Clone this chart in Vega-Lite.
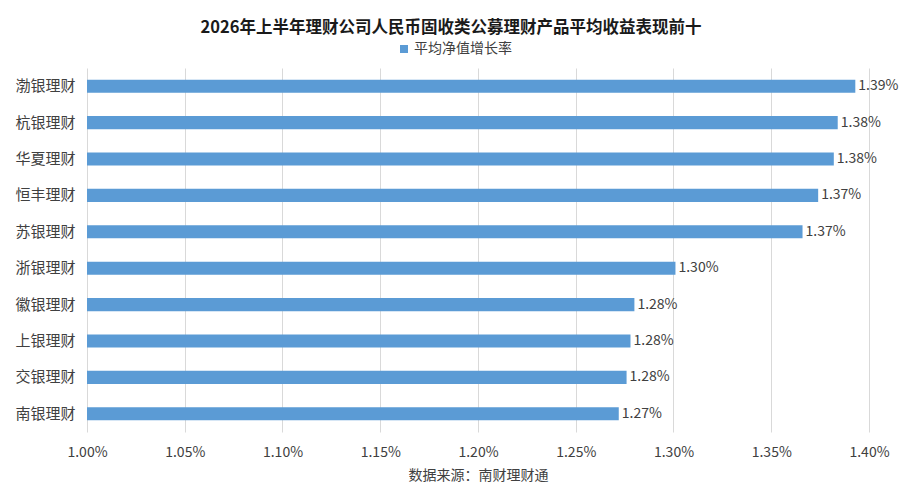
{
  "$schema": "https://vega.github.io/schema/vega-lite/v6.json",
  "width": 782,
  "height": 364,
  "autosize": "none",
  "padding": {"left": 87, "top": 68, "right": 31, "bottom": 64},
  "background": "white",
  "title": {
    "text": "2026年上半年理财公司人民币固收类公募理财产品平均收益表现前十",
    "font": "Noto Sans CJK SC",
    "fontSize": 16.5,
    "fontWeight": "bold",
    "color": "#1a1a1a",
    "anchor": "middle",
    "dx": -27,
    "offset": 6
  },
  "data": {
    "values": [
      {"company": "渤银理财", "rate": 0.01393, "series": "平均净值增长率"},
      {"company": "杭银理财", "rate": 0.01384, "series": "平均净值增长率"},
      {"company": "华夏理财", "rate": 0.01382, "series": "平均净值增长率"},
      {"company": "恒丰理财", "rate": 0.01374, "series": "平均净值增长率"},
      {"company": "苏银理财", "rate": 0.01366, "series": "平均净值增长率"},
      {"company": "浙银理财", "rate": 0.01301, "series": "平均净值增长率"},
      {"company": "徽银理财", "rate": 0.01280, "series": "平均净值增长率"},
      {"company": "上银理财", "rate": 0.01278, "series": "平均净值增长率"},
      {"company": "交银理财", "rate": 0.01276, "series": "平均净值增长率"},
      {"company": "南银理财", "rate": 0.01272, "series": "平均净值增长率"}
    ]
  },
  "encoding": {
    "y": {
      "field": "company",
      "type": "nominal",
      "sort": "-x",
      "title": null,
      "scale": {"paddingInner": 0.64, "paddingOuter": 0.32},
      "axis": {
        "domain": false,
        "ticks": false,
        "labelPadding": 12,
        "labelFont": "Noto Sans CJK SC",
        "labelFontSize": 15,
        "labelColor": "#404040"
      }
    },
    "x": {
      "field": "rate",
      "type": "quantitative",
      "title": "数据来源：南财理财通",
      "scale": {"domain": [0.01, 0.014], "zero": false, "nice": false},
      "axis": {
        "values": [0.01, 0.0105, 0.011, 0.0115, 0.012, 0.0125, 0.013, 0.0135, 0.014],
        "format": ".2%",
        "domain": false,
        "ticks": false,
        "grid": true,
        "gridColor": "#d9d9d9",
        "labelFlush": false,
        "labelPadding": 13,
        "labelFont": "Noto Sans CJK SC",
        "labelFontSize": 14,
        "labelColor": "#404040",
        "titleFont": "Noto Sans CJK SC",
        "titleFontSize": 14,
        "titleFontWeight": "normal",
        "titleColor": "#404040",
        "titlePadding": 9
      }
    }
  },
  "layer": [
    {
      "mark": {"type": "bar", "color": "#5b9bd5"},
      "encoding": {
        "x2": {"datum": 0.01},
        "color": {
          "field": "series",
          "type": "nominal",
          "scale": {"range": ["#5b9bd5"]},
          "legend": {
            "title": null,
            "orient": "none",
            "legendX": 310,
            "legendY": -26,
            "symbolType": "square",
            "symbolSize": 64,
            "symbolStrokeWidth": 0,
            "labelFont": "Noto Sans CJK SC",
            "labelFontSize": 14,
            "labelColor": "#404040",
            "labelOffset": 3
          }
        }
      }
    },
    {
      "mark": {
        "type": "text",
        "align": "left",
        "baseline": "middle",
        "dx": 3,
        "font": "Noto Sans CJK SC",
        "fontSize": 14,
        "color": "#404040"
      },
      "encoding": {
        "text": {"field": "rate", "type": "quantitative", "format": ".2%"}
      }
    }
  ],
  "config": {
    "view": {"stroke": null}
  }
}
